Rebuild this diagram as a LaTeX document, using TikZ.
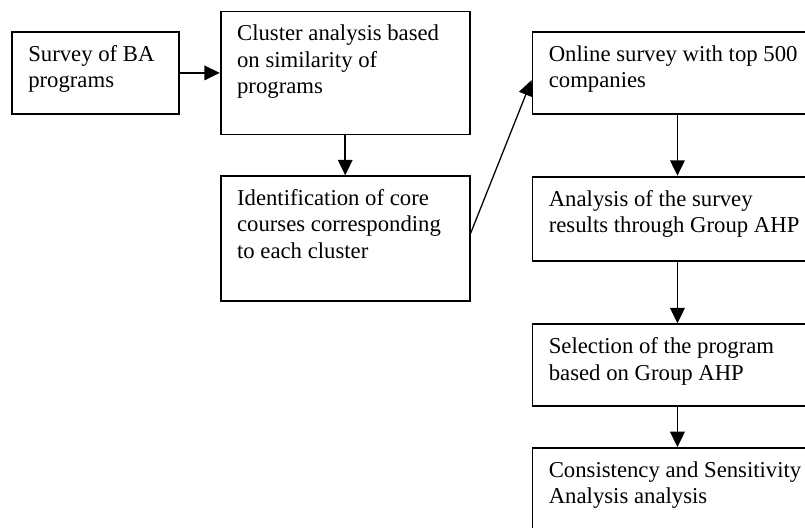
\documentclass[tikz,border=0pt]{standalone}
\usepackage{fontspec}
\setmainfont{Liberation Serif}
\usetikzlibrary{arrows.meta, positioning}

\begin{document}
\begin{tikzpicture}
    [
        x=0.55pt, y=-0.55pt, >={Triangle[length=8.5pt,width=8pt]},
        box/.style 2 args={draw, line width=1pt, inner xsep=9pt, inner ysep=6pt,
            font=\fontsize{12.5}{14.5}\selectfont,
            execute at begin node={\begin{minipage}[t][#2][t]{#1}\raggedright\strut},
            execute at end node={\end{minipage}}},
        smallbox/.style={box={73.85pt}{33.1pt}},
        midbox/.style={box={118.95pt}{#1}},
        widebox/.style={box={141.5pt}{#1}}
    ]
    \tikzstyle{line} = [draw, line width=1pt, ->]
    \tikzstyle{slant} = [draw, line width=0.7pt, ->]

    \clip (0,0) rectangle (805,527);

    % left part
    \node[smallbox, anchor=north west] (survey) at (11,31) {Survey of BA\\programs};
    \node[midbox=55.65pt, right=22pt of survey] (cluster) {Cluster analysis based\\on similarity of\\programs};
    \node[midbox=56.75pt, below=22pt of cluster] (core) {Identification of core\\courses corresponding\\to each cluster};

    % right column
    \node[widebox=33.1pt, right=33.5pt of cluster] (online) {Online survey with top 500\\companies};
    \node[widebox=34.2pt, below=33.5pt of online] (analysis) {Analysis of the survey\\results through Group AHP};
    \node[widebox=33.1pt, below=34pt of analysis] (selection) {Selection of the program\\based on Group AHP};
    \node[widebox=40.25pt, below=22pt of selection] (consistency) {Consistency and Sensitivity\\Analysis analysis};

    \path[line] (survey) -- (cluster);
    \path[line] (cluster) -- (core);
    \path[slant] ([yshift=3pt]core.east) -- ([yshift=-4pt]online.west);
    \path[line] (online) -- (analysis);
    \path[line] (analysis) -- (selection);
    \path[line] (selection) -- (consistency);

\end{tikzpicture}
\end{document}
